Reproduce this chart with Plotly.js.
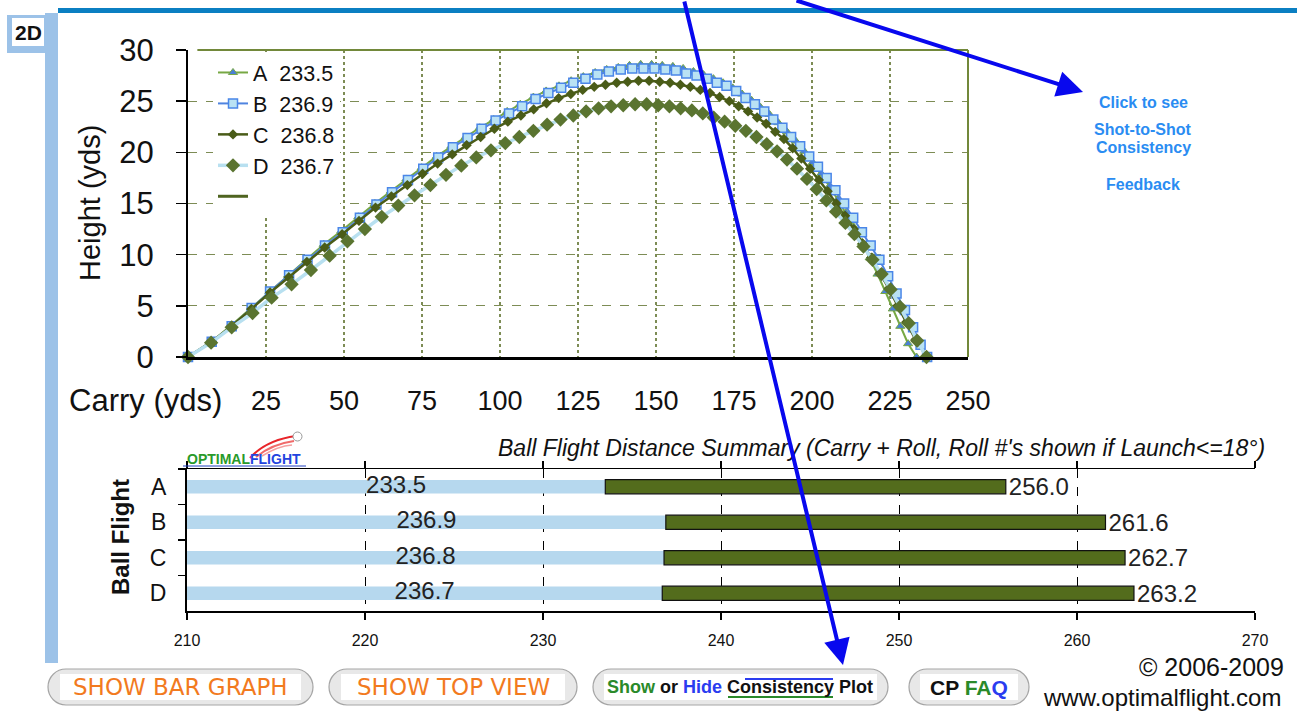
<!DOCTYPE html>
<html>
<head>
<meta charset="utf-8">
<script src="https://cdn.plot.ly/plotly-3.0.1.min.js"></script>
<style>html,body{margin:0;padding:0;background:#fff;overflow:hidden}#chart{width:1297px;height:711px}</style>
</head>
<body>
<div id="chart"></div>
<script>
// ---------------- DATA ----------------
const shots = ['A', 'B', 'C', 'D'];
const carry = [233.5, 236.9, 236.8, 236.7];
const total = [256.0, 261.6, 262.7, 263.2];

const xTicks = [25, 50, 75, 100, 125, 150, 175, 200, 225, 250];
const yTicks = [0, 5, 10, 15, 20, 25, 30];
const barTicks = [210, 220, 230, 240, 250, 260, 270];

const A_x = [0, 7.5, 13.9, 20.2, 26.1, 32.1, 37.9, 43.5, 49.1, 54.6, 59.9, 65.0, 70.0, 74.9, 79.7, 84.4, 89.0, 93.5, 98.0, 102.3, 106.5, 110.7, 114.8, 118.9, 122.8, 126.7, 130.5, 134.2, 137.9, 141.5, 145.1, 148.6, 152.0, 155.4, 158.7, 162.0, 165.2, 168.4, 171.5, 174.6, 177.6, 180.6, 183.5, 186.4, 189.2, 192.0, 194.8, 197.5, 200.2, 202.9, 205.6, 208.2, 210.8, 213.4, 216.0, 218.5, 221.0, 223.5, 225.9, 228.3, 230.8, 233.5];
const A_y = [0, 1.5, 3.1, 4.8, 6.4, 8.0, 9.5, 11.0, 12.3, 13.7, 15.0, 16.2, 17.4, 18.5, 19.6, 20.6, 21.5, 22.4, 23.2, 24.0, 24.7, 25.4, 26.0, 26.5, 27.0, 27.4, 27.8, 28.1, 28.3, 28.5, 28.6, 28.6, 28.5, 28.4, 28.2, 27.9, 27.6, 27.2, 26.8, 26.3, 25.7, 25.1, 24.4, 23.7, 22.9, 22.0, 21.1, 20.1, 19.0, 17.9, 16.7, 15.4, 14.1, 12.7, 11.2, 9.7, 8.1, 6.4, 4.7, 3.0, 1.3, 0];

const B_x = [0, 7.6, 14.0, 20.4, 26.3, 32.4, 38.3, 43.9, 49.6, 55.1, 60.4, 65.4, 70.5, 75.4, 80.2, 84.9, 89.6, 94.1, 98.6, 102.9, 107.1, 111.4, 115.5, 119.6, 123.5, 127.4, 131.2, 134.9, 138.7, 142.4, 146.0, 149.5, 153.0, 156.4, 159.7, 163.0, 166.3, 169.5, 172.6, 175.7, 178.7, 181.7, 184.7, 187.6, 190.5, 193.3, 196.2, 199.1, 201.9, 204.7, 207.5, 210.3, 213.2, 216.0, 218.8, 221.6, 224.4, 227.1, 229.8, 232.4, 234.8, 236.9];
const B_y = [0, 1.5, 3.0, 4.8, 6.4, 8.0, 9.5, 10.9, 12.2, 13.6, 14.9, 16.1, 17.3, 18.4, 19.5, 20.5, 21.4, 22.3, 23.1, 23.8, 24.5, 25.2, 25.8, 26.3, 26.8, 27.2, 27.6, 27.9, 28.1, 28.2, 28.2, 28.2, 28.1, 28.0, 27.7, 27.5, 27.2, 26.8, 26.5, 26.0, 25.3, 24.7, 24.0, 23.2, 22.4, 21.5, 20.6, 19.6, 18.6, 17.5, 16.3, 15.0, 13.6, 12.2, 10.9, 9.5, 7.9, 6.2, 4.6, 2.9, 1.2, 0];

const C_x = [0, 7.6, 14.0, 20.3, 26.3, 32.3, 38.1, 43.8, 49.4, 54.8, 60.1, 65.2, 70.3, 75.2, 80.0, 84.7, 89.3, 93.8, 98.2, 102.5, 106.7, 110.8, 114.9, 118.8, 122.7, 126.5, 130.2, 133.8, 137.4, 140.9, 144.4, 147.8, 151.2, 154.5, 157.8, 161.0, 164.2, 167.3, 170.4, 173.5, 176.5, 179.5, 182.4, 185.3, 188.2, 191.0, 193.8, 196.6, 199.4, 202.2, 205.0, 207.8, 210.6, 213.4, 216.2, 219.0, 221.8, 224.6, 227.4, 230.2, 233.2, 236.8];
const C_y = [0, 1.5, 3.0, 4.7, 6.3, 7.8, 9.3, 10.7, 12.0, 13.3, 14.6, 15.7, 16.8, 17.9, 18.9, 19.8, 20.7, 21.5, 22.3, 23.0, 23.6, 24.2, 24.8, 25.3, 25.7, 26.1, 26.4, 26.6, 26.8, 26.9, 27.0, 27.0, 26.9, 26.8, 26.6, 26.4, 26.1, 25.8, 25.4, 25.0, 24.5, 24.0, 23.4, 22.8, 22.0, 21.3, 20.4, 19.4, 18.4, 17.3, 16.2, 15.0, 13.8, 12.5, 11.1, 9.7, 8.2, 6.7, 5.0, 3.4, 1.7, 0];

const D_x = [0, 7.4, 14.0, 20.7, 26.8, 33.2, 39.4, 45.4, 51.1, 56.7, 62.1, 67.4, 72.6, 77.7, 82.7, 87.6, 92.4, 97.1, 101.7, 106.2, 110.7, 115.1, 119.4, 123.5, 127.6, 131.6, 135.6, 139.5, 143.3, 147.0, 150.7, 154.3, 157.9, 161.5, 165.0, 168.5, 172.0, 175.4, 178.8, 182.2, 185.5, 188.8, 192.0, 195.2, 198.4, 201.5, 204.6, 207.7, 210.7, 213.6, 216.5, 219.4, 222.3, 225.2, 228.2, 231.0, 233.7, 236.7];
const D_y = [0, 1.4, 2.9, 4.3, 5.8, 7.1, 8.5, 9.9, 11.3, 12.5, 13.7, 14.8, 15.8, 16.8, 17.8, 18.7, 19.5, 20.2, 20.9, 21.5, 22.1, 22.7, 23.2, 23.6, 24.0, 24.3, 24.5, 24.6, 24.7, 24.7, 24.6, 24.5, 24.3, 24.1, 23.8, 23.4, 23.0, 22.6, 22.1, 21.5, 20.8, 20.1, 19.3, 18.4, 17.4, 16.4, 15.3, 14.2, 13.1, 12.0, 10.8, 9.5, 8.1, 6.6, 4.9, 3.3, 1.6, 0];

// ---------------- HELPERS ----------------
const W = 1297, H = 711;
const fx = x => x / W;
const fy = y => 1 - y / H;
const FONT = 'Liberation Sans, Arial, Helvetica, sans-serif';
const OLIVE_GRID = '#7d8c55';

function pill(x0, y0, x1, y1) {
  const r = (y1 - y0) / 2, k = 0.5523 * r;
  const P = (x, y) => fx(x) + ',' + fy(y);
  return 'M' + P(x0 + r, y0) + ' L' + P(x1 - r, y0) +
    ' C' + P(x1 - r + k, y0) + ' ' + P(x1, y0 + r - k) + ' ' + P(x1, y0 + r) +
    ' C' + P(x1, y0 + r + k) + ' ' + P(x1 - r + k, y1) + ' ' + P(x1 - r, y1) +
    ' L' + P(x0 + r, y1) +
    ' C' + P(x0 + r - k, y1) + ' ' + P(x0, y0 + r + k) + ' ' + P(x0, y0 + r) +
    ' C' + P(x0, y0 + r - k) + ' ' + P(x0 + r - k, y0) + ' ' + P(x0 + r, y0) + ' Z';
}
function rectP(x0, y0, x1, y1, fill, line, lw) {
  return {type: 'rect', xref: 'paper', yref: 'paper', x0: fx(x0), x1: fx(x1), y0: fy(y1), y1: fy(y0),
    fillcolor: fill, line: {color: line || fill, width: lw || 0}, layer: 'above'};
}
function lineP(x0, y0, x1, y1, color, w) {
  return {type: 'line', xref: 'paper', yref: 'paper', x0: fx(x0), x1: fx(x1), y0: fy(y0), y1: fy(y1),
    line: {color: color, width: w}, layer: 'above'};
}
function txt(x, y, text, size, color, opts) {
  return Object.assign({xref: 'paper', yref: 'paper', x: fx(x), y: fy(y), text: text, showarrow: false,
    font: {family: FONT, size: size, color: color || '#111'}, xanchor: 'center', yanchor: 'middle'}, opts || {});
}

// ---------------- TRACES ----------------
const traces = [
  {x: A_x, y: A_y, name: shots[0] + '\u00a0\u00a0' + carry[0].toFixed(1), mode: 'lines+markers', cliponaxis: false,
   line: {color: '#77a844', width: 2}, marker: {symbol: 'triangle-up', size: 8, color: '#4a7fd6', line: {color: '#77a844', width: 1}}},
  {x: B_x, y: B_y, name: shots[1] + '\u00a0\u00a0' + carry[1].toFixed(1), mode: 'lines+markers', cliponaxis: false,
   line: {color: '#4f84e0', width: 2}, marker: {symbol: 'square', size: 9, color: '#b9e2f4', line: {color: '#4a86e8', width: 1.5}}},
  {x: C_x, y: C_y, name: shots[2] + '\u00a0\u00a0' + carry[2].toFixed(1), mode: 'lines+markers', cliponaxis: false,
   line: {color: '#4a5c18', width: 2.5}, marker: {symbol: 'diamond', size: 8, color: '#4a5c18'}},
  {x: D_x, y: D_y, name: shots[3] + '\u00a0\u00a0' + carry[3].toFixed(1), mode: 'lines+markers', cliponaxis: false,
   line: {color: '#b8e0f0', width: 3.5}, marker: {symbol: 'diamond', size: 11, color: '#5a7430'}},
  {x: [null], y: [null], name: ' ', mode: 'lines', showlegend: true, line: {color: '#4f6420', width: 3}},
  // bar chart: carry (light blue) from axis start to carry
  {type: 'bar', orientation: 'h', x: carry, y: shots, xaxis: 'x2', yaxis: 'y2', width: 0.38,
   marker: {color: '#b6d8ee', line: {width: 0}}, showlegend: false, hoverinfo: 'skip'},
  // roll (olive) from carry to total
  {type: 'bar', orientation: 'h', base: carry, x: total.map((t, i) => t - carry[i]), y: shots, xaxis: 'x2', yaxis: 'y2', width: 0.4,
   marker: {color: '#536c1c', line: {color: '#111', width: 1.2}}, showlegend: false,
   text: total.map(t => t.toFixed(1)), textposition: 'outside', constraintext: 'none', cliponaxis: false,
   textfont: {family: FONT, size: 24, color: '#222'}, hoverinfo: 'skip'},
  // carry labels centred on visible light-blue bar
  {type: 'scatter', mode: 'text', x: carry.map(c => (barTicks[0] + c) / 2), y: shots, xaxis: 'x2', yaxis: 'y2',
   text: carry.map(c => c.toFixed(1)), textposition: 'middle center', cliponaxis: false,
   textfont: {family: FONT, size: 24, color: '#222'}, showlegend: false, hoverinfo: 'skip'}
];

// ---------------- LAYOUT ----------------
const shapes = [
  // page frame
  rectP(58, 8, 1297, 13, '#0b7fc2'),
  rectP(7, 15, 58, 53, '#9cc2e8'),
  rectP(45, 13, 58, 663, '#9cc2e8'),
  rectP(12, 18, 44, 46, '#ffffff'),
  // top chart border (olive top & right)
  {type: 'line', xref: 'x domain', yref: 'y domain', x0: 0.012, x1: 1, y0: 1, y1: 1, line: {color: '#72883a', width: 2}, layer: 'above'},
  {type: 'line', xref: 'x domain', yref: 'y domain', x0: 1, x1: 1, y0: 0, y1: 1, line: {color: '#72883a', width: 2}, layer: 'above'},
  // logo swoosh
  {type: 'path', xref: 'paper', yref: 'paper', path: 'M' + fx(250) + ',' + fy(458) + ' Q' + fx(266) + ',' + fy(440) + ' ' + fx(296) + ',' + fy(436), line: {color: '#e8252a', width: 2}, layer: 'above'},
  {type: 'path', xref: 'paper', yref: 'paper', path: 'M' + fx(256) + ',' + fy(457) + ' Q' + fx(272) + ',' + fy(444) + ' ' + fx(294) + ',' + fy(441), line: {color: '#f06a6a', width: 2}, layer: 'above'},
  {type: 'path', xref: 'paper', yref: 'paper', path: 'M' + fx(262) + ',' + fy(456) + ' Q' + fx(278) + ',' + fy(446) + ' ' + fx(292) + ',' + fy(445), line: {color: '#f4a0a0', width: 1.5}, layer: 'above'},
  {type: 'circle', xref: 'paper', yref: 'paper', x0: fx(293), x1: fx(302), y0: fy(441), y1: fy(432), fillcolor: '#ffffff', line: {color: '#999', width: 1}, layer: 'above'},
  lineP(183, 466, 306, 466, '#2040c0', 1),
  // buttons
  {type: 'path', xref: 'paper', yref: 'paper', path: pill(48, 669, 313, 705), fillcolor: '#e8e8e8', line: {color: '#a5a5a5', width: 1.2}, layer: 'above'},
  rectP(60, 674, 301, 700, '#ffffff'),
  {type: 'path', xref: 'paper', yref: 'paper', path: pill(329, 669, 577, 705), fillcolor: '#e8e8e8', line: {color: '#a5a5a5', width: 1.2}, layer: 'above'},
  rectP(341, 674, 565, 700, '#ffffff'),
  {type: 'path', xref: 'paper', yref: 'paper', path: pill(593, 669, 888, 705), fillcolor: '#e8e8e8', line: {color: '#a5a5a5', width: 1.2}, layer: 'above'},
  rectP(604, 674, 877, 700, '#ffffff'),
  {type: 'path', xref: 'paper', yref: 'paper', path: pill(909, 669, 1029, 705), fillcolor: '#e8e8e8', line: {color: '#a5a5a5', width: 1.2}, layer: 'above'},
  rectP(920, 674, 1018, 700, '#ffffff'),
  lineP(728, 697, 833, 697, '#2a8a2a', 2),
  lineP(745, 679, 833, 679, '#2a3cf0', 2)
];

const annotations = [
  txt(28, 32, '<b>2D</b>', 21, '#111'),
  txt(145, 400, 'Carry (yds)', 31, '#111'),
  txt(90, 203, 'Height (yds)', 29, '#111', {textangle: -90}),
  txt(120, 537, '<b>Ball Flight</b>', 24, '#111', {textangle: -90}),
  txt(1267, 448, '<i>Ball Flight Distance Summary (Carry + Roll, Roll #\'s shown if Launch&lt;=18°)</i>', 23, '#111', {xanchor: 'right'}),
  txt(244, 459, '<b><span style="color:#2a9a2a">OPTIMAL</span><span style="color:#2244e0">FLIGHT</span></b>', 14, '#111'),
  txt(1143, 102, '<b>Click to see</b>', 16, '#2a8cf2'),
  txt(1143, 129, '<b>Shot-to-Shot</b>', 16, '#2a8cf2'),
  txt(1143, 148, '<b>Consistency</b>', 16, '#2a8cf2'),
  txt(1143, 184, '<b>Feedback</b>', 16, '#2a8cf2'),
  txt(180, 687, 'SHOW BAR GRAPH', 23, '#f27a1e', {font: {family: 'DejaVu Sans, sans-serif', size: 23, color: '#f27a1e'}}),
  txt(453, 687, 'SHOW TOP VIEW', 23, '#f27a1e', {font: {family: 'DejaVu Sans, sans-serif', size: 23, color: '#f27a1e'}}),
  txt(740, 687, '<b><span style="color:#2a8a2a">Show</span> or <span style="color:#2a3cf0">Hide</span> Consistency Plot</b>', 18, '#111'),
  txt(969, 687, '<b>CP <span style="color:#2a8a2a">FA</span><span style="color:#2a3cf0">Q</span></b>', 21, '#111'),
  txt(1211, 667, '© 2006-2009', 25, '#111'),
  txt(1162, 697, 'www.optimalflight.com', 24, '#111'),
  // blue arrows
  {xref: 'paper', yref: 'paper', x: fx(843), y: fy(665), ax: -159, ay: -680, text: '', showarrow: true,
   arrowhead: 2, arrowsize: 1.3, arrowwidth: 4, arrowcolor: '#0808ee'},
  {xref: 'paper', yref: 'paper', x: fx(1083), y: fy(92), ax: -288, ay: -97, text: '', showarrow: true,
   arrowhead: 2, arrowsize: 1.3, arrowwidth: 4, arrowcolor: '#0808ee'}
];

const layout = {
  width: W, height: H,
  margin: {l: 0, r: 0, t: 0, b: 0},
  paper_bgcolor: '#ffffff', plot_bgcolor: '#ffffff',
  font: {family: FONT, color: '#111'},
  showlegend: true,
  barmode: 'overlay',
  legend: {x: fx(213), y: fy(52), xanchor: 'left', yanchor: 'top', bgcolor: '#ffffff', borderwidth: 0,
    font: {family: FONT, size: 21.5, color: '#111'}, tracegroupgap: 0, itemwidth: 30},
  xaxis: {domain: [fx(188), fx(968)], range: [0, 250], anchor: 'y', tickvals: xTicks, ticktext: xTicks.map(String),
    showgrid: true, gridcolor: OLIVE_GRID, griddash: 'dot', gridwidth: 1.2, zeroline: false,
    showline: true, linecolor: '#000', linewidth: 3, ticks: '', ticklabelstandoff: 18,
    tickfont: {family: FONT, size: 27, color: '#111'}, fixedrange: true},
  yaxis: {domain: [fy(357), fy(50)], range: [0, 30], anchor: 'x', tickvals: yTicks,
    showgrid: true, gridcolor: OLIVE_GRID, griddash: 'dash', gridwidth: 1.2, zeroline: false,
    showline: true, linecolor: '#000', linewidth: 2, ticks: 'outside', ticklen: 10, tickwidth: 1.5, tickcolor: '#000',
    ticklabelstandoff: 16, tickfont: {family: FONT, size: 31, color: '#111'}, fixedrange: true},
  yaxis3: {overlaying: 'y', anchor: 'x', side: 'left', range: [0, 30], tickvals: yTicks, ticks: 'inside', ticklen: 10,
    tickwidth: 1.5, tickcolor: '#000', showticklabels: false, showgrid: false, showline: false, zeroline: false},
  xaxis2: {domain: [fx(187), fx(1255)], range: [210, 270], anchor: 'y2', tickvals: barTicks,
    showgrid: true, gridcolor: '#000', griddash: 'dash', gridwidth: 1, zeroline: false,
    showline: true, linecolor: '#000', linewidth: 1.5, mirror: 'ticks', ticks: 'outside', ticklen: 7, tickwidth: 1.2,
    tickcolor: '#000', ticklabelstandoff: 7, tickfont: {family: FONT, size: 16, color: '#111'}, fixedrange: true},
  yaxis2: {domain: [fy(611), fy(469)], range: [3.5, -0.5], anchor: 'x2', type: 'category',
    showgrid: false, zeroline: false, showline: true, linecolor: '#000', linewidth: 2,
    ticks: 'outside', tickson: 'boundaries', ticklen: 7, tickwidth: 1.2, tickcolor: '#000',
    ticklabelstandoff: 14, tickfont: {family: FONT, size: 23, color: '#111'}, fixedrange: true},
  shapes: shapes,
  annotations: annotations
};

Plotly.newPlot('chart', traces, layout, {displayModeBar: false, staticPlot: true});
</script>
</body>
</html>
